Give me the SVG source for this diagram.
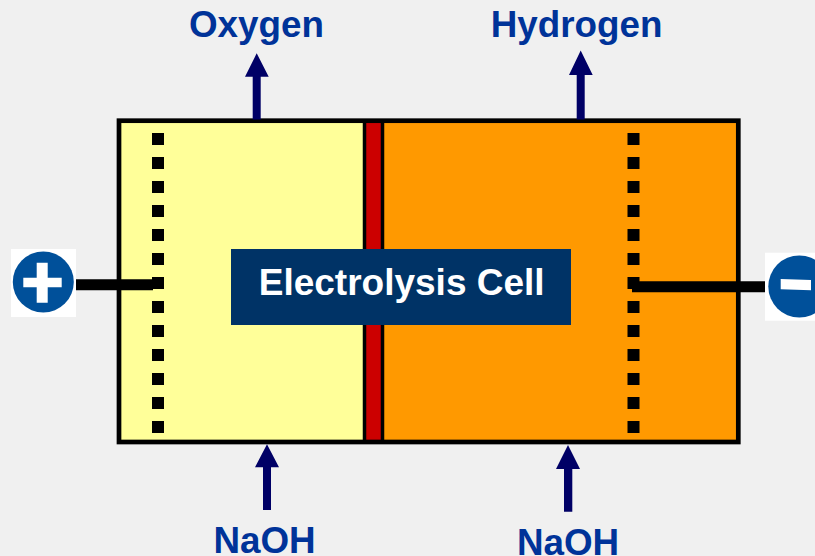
<svg xmlns="http://www.w3.org/2000/svg" width="815" height="556" viewBox="0 0 815 556">
<defs>
<style>
.lbl{font-family:"Liberation Sans",Arial,sans-serif;font-weight:700;font-size:36.800px;fill:#003399;text-anchor:middle}
.cell{fill:none;stroke:#000;stroke-width:4.7}
.arrow{fill:#000066}
.wire{stroke:#000;stroke-width:11;fill:none}
.badge{fill:#00509a}
</style>
<g id="dots"><rect x="0" y="0" width="12" height="12" fill="#000"/></g>
</defs>
<rect width="815" height="556" fill="#f0f0f0"/>
<g id="cell">
<rect x="119" y="120.700" width="246" height="321.300" fill="#ffff99"/>
<rect x="365" y="120.700" width="17" height="321.300" fill="#cc0000"/>
<rect x="382" y="120.700" width="356" height="321.300" fill="#ff9900"/>
<path d="M364.500 120.700V442M382.500 120.700V442" stroke="#000" stroke-width="3.500" fill="none"/>
<rect class="cell" x="119" y="120.700" width="619.300" height="321.300"/>
</g>
<g id="anode-electrode">
<use href="#dots" x="152" y="133"/><use href="#dots" x="152" y="157"/><use href="#dots" x="152" y="181"/><use href="#dots" x="152" y="205"/><use href="#dots" x="152" y="229"/><use href="#dots" x="152" y="253"/><use href="#dots" x="152" y="277"/><use href="#dots" x="152" y="301"/><use href="#dots" x="152" y="325"/><use href="#dots" x="152" y="349"/><use href="#dots" x="152" y="373"/><use href="#dots" x="152" y="397"/><use href="#dots" x="152" y="421"/>
</g>
<g id="cathode-electrode">
<use href="#dots" x="627.500" y="133"/><use href="#dots" x="627.500" y="157"/><use href="#dots" x="627.500" y="181"/><use href="#dots" x="627.500" y="205"/><use href="#dots" x="627.500" y="229"/><use href="#dots" x="627.500" y="253"/><use href="#dots" x="627.500" y="277"/><use href="#dots" x="627.500" y="301"/><use href="#dots" x="627.500" y="325"/><use href="#dots" x="627.500" y="349"/><use href="#dots" x="627.500" y="373"/><use href="#dots" x="627.500" y="397"/><use href="#dots" x="627.500" y="421"/>
</g>
<g id="connectors">
<path class="wire" d="M76 284.700H153"/>
<path class="wire" d="M632 286.700H765"/>
<path class="arrow" d="M252.700 119.500V76.700H245L256.700 53.300L268.700 76.700H260.700V119.500Z"/>
<path class="arrow" d="M576.700 119.500V75H569L580.700 50.500L592.700 75H584.700V119.500Z"/>
<path class="arrow" d="M263 510V467.300H255L267 444.300L279 467.300H271V510Z"/>
<path class="arrow" d="M564 511.700V469H556L568 445L580 469H572.300V511.700Z"/>
</g>
<g id="plus-terminal">
<rect x="11" y="249" width="65" height="68" fill="#fff"/>
<circle cx="43.300" cy="282" r="30.500" class="badge"/>
<path d="M36.700 262.700H47.700V277.700H61.700V287.300H47.700V302.700H36.700V287.300H23.300V277.700H36.700Z" fill="#fff"/>
</g>
<g id="minus-terminal">
<rect x="765" y="252.700" width="50" height="68" fill="#fff"/>
<circle cx="799.300" cy="286.500" r="31" class="badge"/>
<path d="M780.700 279L811 280V290.300L780.700 289.300Z" fill="#fff"/>
</g>
<g id="electrolysis-label">
<rect x="231" y="249" width="340" height="76" fill="#003366"/>
<text x="401.700" y="295" text-anchor="middle" font-family="'Liberation Sans',Arial,sans-serif" font-weight="700" font-size="37" fill="#fff">Electrolysis Cell</text>
</g>
<g id="oxygen"><text class="lbl" x="256.500" y="37">Oxygen</text></g>
<g id="hydrogen"><text class="lbl" x="576.500" y="37">Hydrogen</text></g>
<g id="naoh-left"><text class="lbl" x="264.500" y="552.500">NaOH</text></g>
<g id="naoh-right"><text class="lbl" x="568" y="554.500">NaOH</text></g>
</svg>
